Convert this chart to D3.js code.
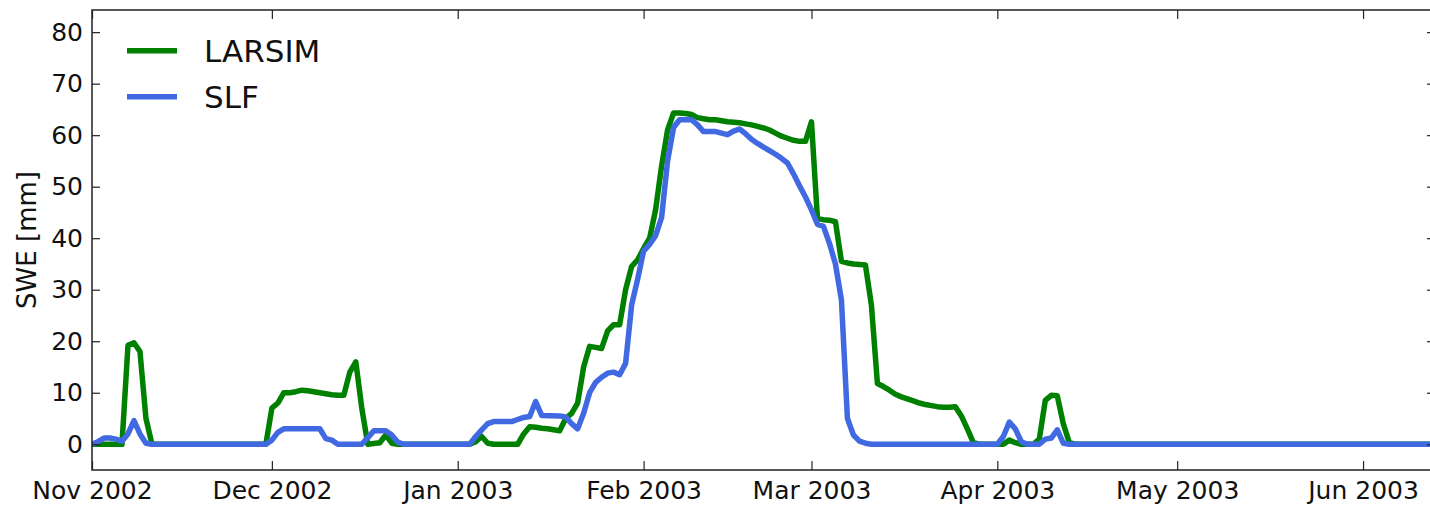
<!DOCTYPE html>
<html>
<head>
<meta charset="utf-8">
<script src="https://cdn.jsdelivr.net/npm/d3@7"></script>
<style>
  body { margin: 0; background: #fff; overflow: hidden; }
  svg { display: block; }
  svg text { font-family: 'DejaVu Sans', sans-serif; fill: #111; }
</style>
</head>
<body>
<div class="swe-chart"></div>
<script>
// data (SWE in mm, breakpoints of the daily series)
const larsim_dates = ['2002-11-01','2002-11-06','2002-11-07','2002-11-08','2002-11-09','2002-11-10','2002-11-11',
  '2002-11-30','2002-12-01','2002-12-02','2002-12-03','2002-12-04','2002-12-05','2002-12-06','2002-12-07','2002-12-08',
  '2002-12-09','2002-12-10','2002-12-11','2002-12-12','2002-12-13','2002-12-14','2002-12-15','2002-12-16','2002-12-17',
  '2002-12-19','2002-12-20','2002-12-21','2002-12-22',
  '2003-01-03','2003-01-04','2003-01-05','2003-01-06','2003-01-07','2003-01-11','2003-01-12','2003-01-13','2003-01-14',
  '2003-01-15','2003-01-16','2003-01-17','2003-01-18','2003-01-19','2003-01-20','2003-01-21','2003-01-22','2003-01-23',
  '2003-01-24','2003-01-25','2003-01-26','2003-01-27','2003-01-28','2003-01-29','2003-01-30','2003-01-31',
  '2003-02-01','2003-02-02','2003-02-03','2003-02-04','2003-02-05','2003-02-06','2003-02-07','2003-02-08','2003-02-09',
  '2003-02-10','2003-02-11','2003-02-12','2003-02-13','2003-02-14','2003-02-15','2003-02-16','2003-02-17','2003-02-18',
  '2003-02-19','2003-02-20','2003-02-21','2003-02-22','2003-02-23','2003-02-24','2003-02-25','2003-02-26','2003-02-27',
  '2003-02-28','2003-03-01','2003-03-02','2003-03-03','2003-03-04','2003-03-05','2003-03-06','2003-03-07','2003-03-08',
  '2003-03-09','2003-03-10','2003-03-11','2003-03-12','2003-03-13','2003-03-14','2003-03-15','2003-03-16','2003-03-17',
  '2003-03-18','2003-03-19','2003-03-20','2003-03-21','2003-03-22','2003-03-23','2003-03-24','2003-03-25','2003-03-26',
  '2003-03-27','2003-03-28','2003-03-29','2003-04-02','2003-04-03','2003-04-04','2003-04-05','2003-04-07','2003-04-08',
  '2003-04-09','2003-04-10','2003-04-11','2003-04-12','2003-04-13','2003-04-14','2003-06-13'];
const larsim_swe = [0,0,19.2,19.7,18,5,0,
  0,7,8,10,10,10.2,10.5,10.4,10.2,
  10,9.8,9.6,9.5,9.5,14,16,7,0,
  0.3,1.8,0.2,0,
  0,0.5,1.5,0.2,0,0,2,3.4,3.3,
  3.1,3,2.8,2.6,5,6,8,15,19,
  18.8,18.6,22,23.2,23.2,30,34.5,35.8,
  38,40,45.5,54,61,64.3,64.3,64.2,64,
  63.4,63.2,63,63,62.8,62.6,62.5,62.4,62.2,
  62,61.7,61.4,61,60.4,59.8,59.4,59,58.8,
  58.8,62.6,43.8,43.6,43.5,43.2,35.5,35.2,35,
  34.9,34.8,27,11.8,11.2,10.5,9.7,9.2,8.8,
  8.4,8,7.7,7.5,7.3,7.2,7.2,7.3,5.5,
  3,0.3,0,0,0.8,0.3,0,0,1,
  8.5,9.5,9.4,4,0.3,0,0];

const slf_dates = ['2002-11-01','2002-11-02','2002-11-03','2002-11-04','2002-11-05','2002-11-06','2002-11-07','2002-11-08',
  '2002-11-09','2002-11-10','2002-11-11','2002-11-30','2002-12-01','2002-12-02','2002-12-03','2002-12-09','2002-12-10',
  '2002-12-11','2002-12-12','2002-12-16','2002-12-17','2002-12-18','2002-12-20','2002-12-21','2002-12-22','2002-12-23',
  '2003-01-03','2003-01-04','2003-01-05','2003-01-06','2003-01-07','2003-01-10','2003-01-11','2003-01-12','2003-01-13',
  '2003-01-14','2003-01-15','2003-01-18','2003-01-19','2003-01-20','2003-01-21','2003-01-22','2003-01-23','2003-01-24',
  '2003-01-25','2003-01-26','2003-01-27','2003-01-28','2003-01-29','2003-01-30','2003-01-31',
  '2003-02-01','2003-02-02','2003-02-03','2003-02-04','2003-02-05','2003-02-06','2003-02-07','2003-02-09','2003-02-10',
  '2003-02-11','2003-02-13','2003-02-14','2003-02-15','2003-02-16','2003-02-17','2003-02-18','2003-02-19','2003-02-20',
  '2003-02-21','2003-02-22','2003-02-23','2003-02-24','2003-02-25','2003-02-26','2003-02-27','2003-02-28',
  '2003-03-01','2003-03-02','2003-03-03','2003-03-04','2003-03-05','2003-03-06','2003-03-07','2003-03-08','2003-03-09',
  '2003-03-10','2003-03-11','2003-04-01','2003-04-02','2003-04-03','2003-04-04','2003-04-05','2003-04-06','2003-04-08',
  '2003-04-09','2003-04-10','2003-04-11','2003-04-12','2003-04-13','2003-06-13'];
const slf_swe = [0,0.5,1.2,1.2,1,0.6,2,4.6,
  2,0.2,0,0,0.8,2.3,3,3,1.1,
  0.8,0,0,1.3,2.6,2.6,1.8,0.4,0,
  0,1.5,2.8,4,4.4,4.4,4.8,5.2,5.4,
  8.3,5.6,5.5,5.3,4,3,6,10,12,
  13,13.8,14,13.5,15.7,27,32,
  37.5,38.8,40.5,44,55,61.5,63,63,62,
  60.7,60.7,60.4,60.1,60.8,61.2,60.3,59.2,58.4,
  57.7,57,56.3,55.5,54.6,52.5,50.2,48,
  45.5,42.7,42.3,39,35,28,5,1.8,0.6,
  0.2,0,0,1.5,4.3,3,0.5,0,0,
  1,1.2,2.8,0.2,0,0];

const series_names = ['LARSIM', 'SLF'];
const series_colors = ['#008000', '#4169e1'];
const month_ticks = ['2002-11-01','2002-12-01','2003-01-01','2003-02-01','2003-03-01','2003-04-01','2003-05-01','2003-06-01'];
const y_ticks = [0, 10, 20, 30, 40, 50, 60, 70, 80];

const parse_date = d3.timeParse('%Y-%m-%d');

const svg_width = 1430;
const svg_height = 506;
// right spine sits just past the picture edge
const chart_margin = {top: 10, right: -5, bottom: 36, left: 92};
const chart_width = svg_width - (chart_margin.left + chart_margin.right);
const chart_height = svg_height - (chart_margin.top + chart_margin.bottom);

const svg = d3.select('.swe-chart')
  .append('svg')
  .attr('width', svg_width)
  .attr('height', svg_height);

const g = svg.append('g')
  .attr('transform', `translate(${chart_margin.left}, ${chart_margin.top})`);

// scales
const x_scale = d3.scaleTime()
  .domain([parse_date('2002-11-01'), parse_date('2003-06-13')])
  .range([0, chart_width]);
const y_scale = d3.scaleLinear()
  .domain([-5, 84.3])
  .range([chart_height, 0]);

// lines (green first, blue on top)
g.append('clipPath').attr('id', 'plot-clip')
  .append('rect').attr('width', chart_width).attr('height', chart_height);

const line = d3.line()
  .x(d => x_scale(d.date))
  .y(d => y_scale(d.swe));

const series = [
  larsim_dates.map((d, i) => ({date: parse_date(d), swe: larsim_swe[i]})),
  slf_dates.map((d, i) => ({date: parse_date(d), swe: slf_swe[i]}))
];

g.append('g').attr('clip-path', 'url(#plot-clip)')
  .selectAll('path')
  .data(series)
  .join('path')
  .attr('d', line)
  .attr('fill', 'none')
  .attr('stroke', (d, i) => series_colors[i])
  .attr('stroke-width', 5.5)
  .attr('stroke-linejoin', 'round');

// axes, ticks pointing inward
const tick_font = '25px';
const x_bottom = d3.axisBottom(x_scale)
  .tickValues(month_ticks.map(parse_date))
  .tickFormat(d3.timeFormat('%b %Y'))
  .tickSizeInner(-9).tickSizeOuter(0).tickPadding(11);
const x_top = d3.axisTop(x_scale)
  .tickValues(month_ticks.map(parse_date))
  .tickFormat('')
  .tickSizeInner(-9).tickSizeOuter(0);
const y_left = d3.axisLeft(y_scale)
  .tickValues(y_ticks)
  .tickSizeInner(-8).tickSizeOuter(0).tickPadding(9);
const y_right = d3.axisRight(y_scale)
  .tickValues(y_ticks)
  .tickFormat('')
  .tickSizeInner(-8).tickSizeOuter(0);

const axes = [
  g.append('g').attr('transform', `translate(0, ${chart_height})`).call(x_bottom),
  g.append('g').call(x_top),
  g.append('g').call(y_left),
  g.append('g').attr('transform', `translate(${chart_width}, 0)`).call(y_right)
];
axes.forEach(a => {
  a.select('.domain').remove();
  a.selectAll('line').attr('stroke', '#222').attr('stroke-width', 1.2);
  a.selectAll('text').style('font-size', tick_font).style('font-family', "'DejaVu Sans', sans-serif").attr('fill', '#111');
});

// frame: the right spine falls outside the picture, so only three sides
g.append('path')
  .attr('d', `M${chart_width},0H0V${chart_height}H${chart_width}`)
  .attr('fill', 'none')
  .attr('stroke', '#222')
  .attr('stroke-width', 1.5);

// y label
svg.append('text')
  .attr('transform', 'translate(36, 240) rotate(-90)')
  .attr('text-anchor', 'middle')
  .style('font-size', '26px')
  .text('SWE [mm]');

// legend
const legend = svg.append('g').attr('class', 'legend');
series_names.forEach((name, i) => {
  const row = legend.append('g').attr('transform', `translate(0, ${50.7 + i * 46})`);
  row.append('line')
    .attr('x1', 127).attr('x2', 177)
    .attr('stroke', series_colors[i])
    .attr('stroke-width', 5.5);
  row.append('text')
    .attr('x', 204)
    .attr('y', 11)
    .style('font-size', '31px')
    .text(name);
});
</script>
</body>
</html>
